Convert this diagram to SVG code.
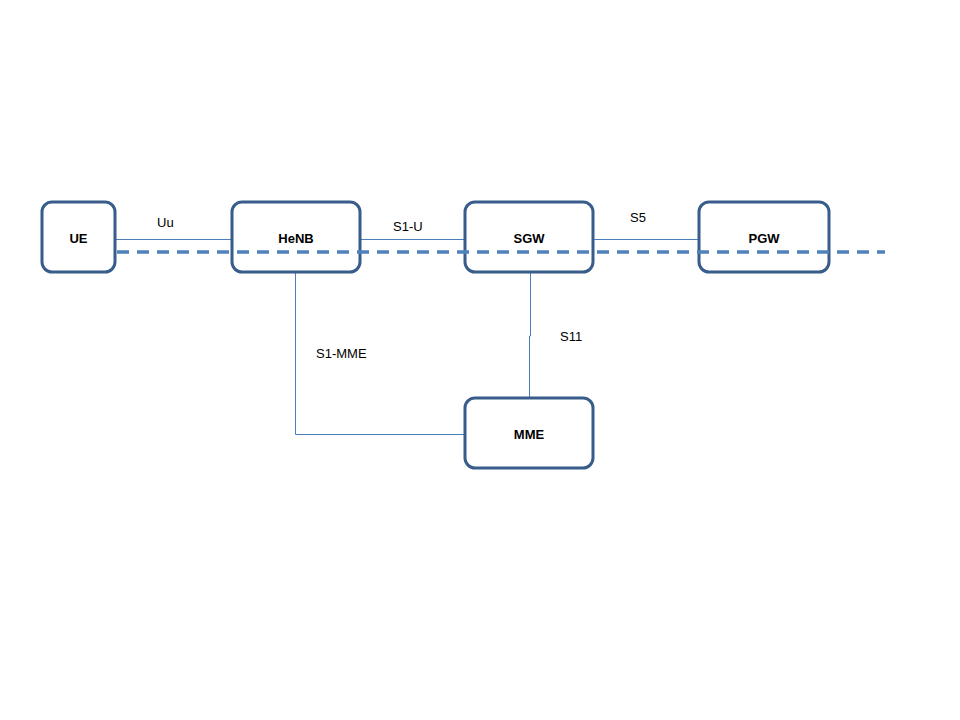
<svg xmlns="http://www.w3.org/2000/svg" width="960" height="720" viewBox="0 0 960 720">
<style>
.node rect{fill:#fff;stroke:#385d8a;stroke-width:3}
.node text{font-family:"Liberation Sans",Arial,sans-serif;font-size:13px;font-weight:bold;fill:#000;text-anchor:middle}
.conn{fill:none;stroke:#4a7ebb;stroke-width:1}
.lbl{font-family:"Liberation Sans",Arial,sans-serif;font-size:13px;fill:#000}
.dash{fill:none;stroke:#4f81bd;stroke-width:3.5;stroke-dasharray:12 8}
</style>
<rect width="960" height="720" fill="#fff"/>
<g id="connectors">
<line class="conn" x1="115" y1="239.5" x2="232" y2="239.5"/>
<line class="conn" x1="360" y1="239.5" x2="465" y2="239.5"/>
<line class="conn" x1="593" y1="239.5" x2="699" y2="239.5"/>
<polyline class="conn" points="295.5,272 295.5,434.5 465,434.5"/>
<polyline class="conn" points="530.5,272 530.5,336 529.5,336 529.5,398"/>
</g>
<g id="UE" class="node"><rect x="42" y="202" width="73" height="70" rx="10"/><text x="78.5" y="243">UE</text></g>
<g id="HeNB" class="node"><rect x="232" y="202" width="128" height="70" rx="10"/><text x="296" y="243">HeNB</text></g>
<g id="SGW" class="node"><rect x="465" y="202" width="128" height="70" rx="10"/><text x="529" y="243">SGW</text></g>
<g id="PGW" class="node"><rect x="699" y="202" width="130" height="70" rx="10"/><text x="764" y="243">PGW</text></g>
<g id="MME" class="node"><rect x="465" y="398" width="128" height="70" rx="10"/><text x="529" y="439">MME</text></g>
<line class="dash" x1="117" y1="252" x2="885" y2="252"/>
<g id="labels">
<text class="lbl" x="157" y="227">Uu</text>
<text class="lbl" x="393" y="231">S1-U</text>
<text class="lbl" x="630" y="222">S5</text>
<text class="lbl" x="560" y="341">S11</text>
<text class="lbl" x="316" y="358">S1-MME</text>
</g>
</svg>
